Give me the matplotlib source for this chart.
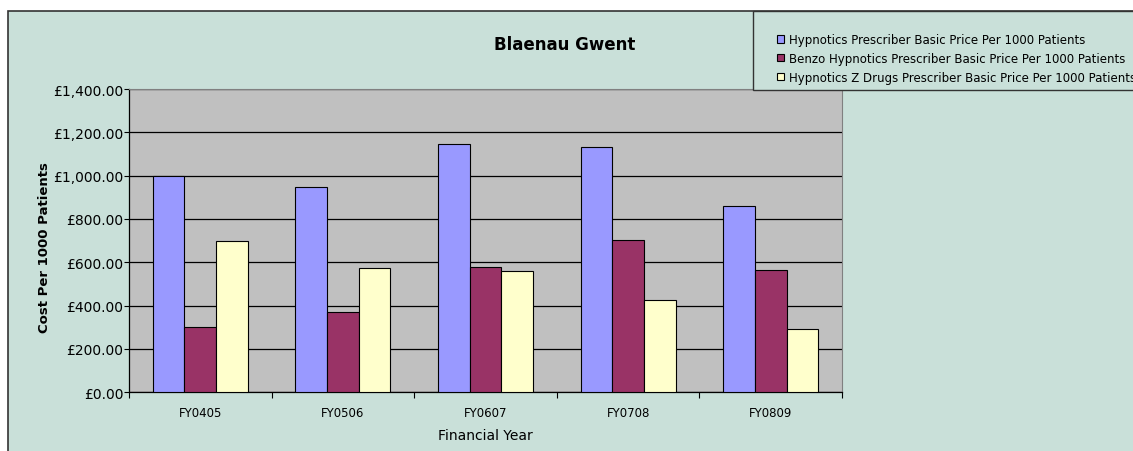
import matplotlib
matplotlib.use("Agg")
import matplotlib.pyplot as plt
import numpy as np
from matplotlib.patches import Rectangle
from matplotlib.ticker import FuncFormatter, MultipleLocator

categories = ["FY0405", "FY0506", "FY0607", "FY0708", "FY0809"]
hypnotics = [1000, 946, 1146, 1130, 858]
benzo = [300, 372, 577, 703, 563]
zdrugs = [700, 574, 561, 427, 292]
series_names = ["Hypnotics Prescriber Basic Price Per 1000 Patients",
                "Benzo Hypnotics Prescriber Basic Price Per 1000 Patients",
                "Hypnotics Z Drugs Prescriber Basic Price Per 1000 Patients"]
colors = ["#9999FF", "#993366", "#FFFFCC"]
title = "Blaenau Gwent"
ylabel = "Cost Per 1000 Patients"
xlabel = "Financial Year"

W, H = 1133, 452
fig = plt.figure(figsize=(W / 100, H / 100), dpi=100)
fig.patch.set_facecolor("white")
bg = "#C9E0D9"

# chart area border
fig.patches.append(Rectangle((8 / W, -0.1), 1.2, (H - 12) / H + 0.1, transform=fig.transFigure,
                             facecolor=bg, edgecolor="#333333", linewidth=1.2, zorder=-10))

ax = fig.add_axes([129 / W, 1 - 393.3 / H, (842 - 129) / W, (393.3 - 90) / H])
ax.set_facecolor("#C0C0C0")

x = np.arange(len(categories))
w = 1 / 4.5
data = [hypnotics, benzo, zdrugs]
handles = []
for i, (vals, c) in enumerate(zip(data, colors)):
    b = ax.bar(x + (i - 1) * w, vals, width=w, color=c, edgecolor="black", linewidth=0.8,
               zorder=3, label=series_names[i])
    handles.append(b)

ax.set_xlim(-0.5, len(categories) - 0.5)
ax.set_ylim(0, 1400)
ax.yaxis.set_major_locator(MultipleLocator(200))
ax.yaxis.set_major_formatter(FuncFormatter(lambda v, p: "£{:,.2f}".format(v)))
ax.grid(axis="y", color="black", linewidth=0.9, zorder=1)
ax.set_axisbelow(True)
ax.set_xticks(x)
ax.set_xticklabels(categories, fontsize=8.5)
ax.set_xticks(np.arange(-0.5, len(categories)), minor=True)
ax.tick_params(axis="x", which="major", length=0, pad=10)
ax.tick_params(axis="x", which="minor", length=4, width=0.8, direction="out")
ax.tick_params(axis="y", length=3.5, width=0.8, direction="out", labelsize=10, pad=0.5)
for s in ["top", "right"]:
    ax.spines[s].set_color("#808080")
    ax.spines[s].set_linewidth(0.8)
for s in ["left", "bottom"]:
    ax.spines[s].set_color("black")
    ax.spines[s].set_linewidth(0.9)

ax.set_xlabel(xlabel, fontsize=10, labelpad=6)
ax.set_ylabel(ylabel, fontsize=9.5, fontweight="bold")
ax.yaxis.set_label_coords(-78 / (842 - 129), 0.48)

fig.text(565 / W, 1 - 45 / H, title, fontsize=12, fontweight="bold", ha="center", va="center")

# legend box
fig.patches.append(Rectangle((753 / W, 1 - 91 / H), (1140 - 753) / W, (91 - 12) / H,
                             transform=fig.transFigure, facecolor=bg, edgecolor="#333333",
                             linewidth=1.0, zorder=5))
leg = fig.legend(handles=handles, labels=series_names, loc="upper left",
                 bbox_to_anchor=(777 / W, 1 - 34 / H), frameon=False, fontsize=8.5,
                 handlelength=0.6, handleheight=0.6, handletextpad=0.4,
                 labelspacing=0.5, borderpad=0, borderaxespad=0)
leg.set_zorder(6)

fig.savefig("out.png", dpi=100)
